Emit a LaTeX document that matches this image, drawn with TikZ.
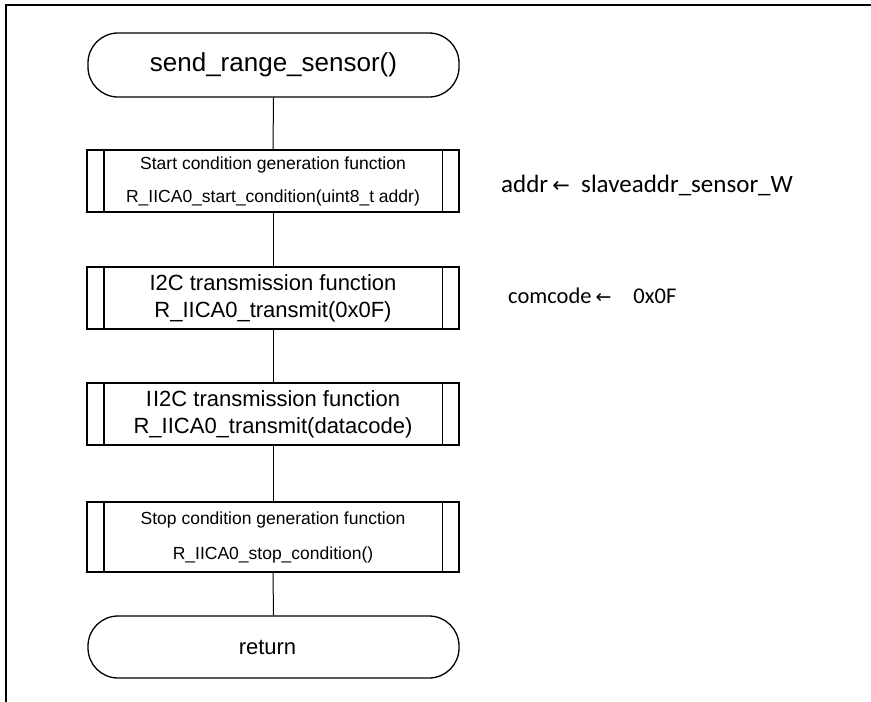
\documentclass[tikz,border=0pt]{standalone}
\usepackage{fontspec}
\newfontfamily\arialf{Liberation Sans}
\newfontfamily\calf{Carlito}
\newfontfamily\dejaf{DejaVu Sans}
\begin{document}
\begin{tikzpicture}[x=1pt,y=-1pt,
  term/.style={draw, line width=1.3pt, rounded corners=30pt, minimum width=371pt, minimum height=64pt, inner sep=0pt},
  proc/.style={draw, line width=1.3pt, minimum width=372pt, minimum height=62pt, inner sep=0pt, align=center},
  procline/.style={line width=1.3pt},
  flow/.style={line width=1pt},
  frameline/.style={line width=2pt},
  note/.style={anchor=west, inner sep=0pt}]
\useasboundingbox (0,0) rectangle (871,702);
\coordinate (ftr) at (871,5);
\coordinate (ftl) at (6,5);
\coordinate (fbl) at (6,702);
\draw[frameline] (ftr) -- (ftl) -- (fbl);

\node[term, font=\arialf\fontsize{26}{30}\selectfont] (start) at (273.5,65) {send\_range\_sensor()};

\node[proc, font=\arialf\fontsize{17.5}{33}\selectfont] (b1) at (273,181)
  {Start condition generation function\\R\_IICA0\_start\_condition(uint8\_t addr)};
\node[proc, font=\arialf\fontsize{22}{27}\selectfont] (b2) at (273,298)
  {I2C transmission function\\R\_IICA0\_transmit(0x0F)};
\node[proc, font=\arialf\fontsize{22}{27}\selectfont] (b3) at (273,414)
  {I\kern1ptI2C transmission function\\R\_IICA0\_transmit(datacode)};
\node[proc, minimum height=70pt, font=\arialf\fontsize{17.5}{35}\selectfont] (b4) at (273,537)
  {Stop condition generation function\\R\_IICA0\_stop\_condition()};

\node[term, minimum height=62pt, font=\arialf\fontsize{22}{26}\selectfont] (ret) at (273.5,647) {\hspace*{-12pt}return};

\foreach \b in {b1,b2,b3,b4}{
  \draw[procline] ([xshift=17.5pt]\b.north west) -- ([xshift=17.5pt]\b.south west);
  \draw[procline] ([xshift=-17.5pt]\b.north east) -- ([xshift=-17.5pt]\b.south east);
}

\draw[flow] (start.south) -- (b1.north);
\draw[flow] (b1.south) -- (b2.north);
\draw[flow] (b2.south) -- (b3.north);
\draw[flow] (b3.south) -- (b4.north);
\draw[flow] (b4.south) -- (ret.north);

\node[note, font=\calf\fontsize{25}{28}\selectfont] (n1) at (501,185)
  {addr\,{\dejaf\fontsize{21}{24}\selectfont ←}\ \ slaveaddr\_sensor\_W};
\node[note, font=\calf\fontsize{22.5}{26}\selectfont] (n2) at (508,296)
  {comcode\hspace{4pt}{\dejaf\fontsize{19}{22}\selectfont ←}\hspace{22pt}0x0F};
\end{tikzpicture}
\end{document}
